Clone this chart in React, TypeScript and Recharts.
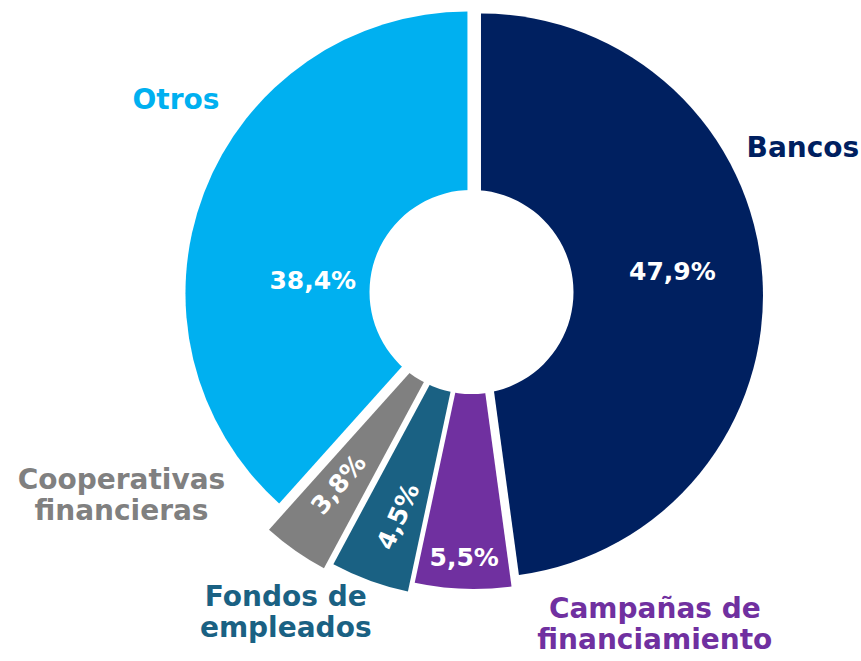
import React from 'react';
import { PieChart, Pie, Cell, Sector } from 'recharts';

// data
const categories = ['Bancos', 'Campañas de financiamiento', 'Fondos de empleados', 'Cooperativas financieras', 'Otros'];
const shares = [47.9, 5.5, 4.5, 3.8, 38.4];
const nameLines = [
  ['Bancos'],
  ['Campañas de', 'financiamiento'],
  ['Fondos de', 'empleados'],
  ['Cooperativas', 'financieras'],
  ['Otros'],
];

// styling
const colors = ['#002060', '#7030A0', '#1A6183', '#808080', '#00B0F0'];
const explode = [7, 11, 21, 29, 7];
const pctSpot = [
  { dAngle: 3.4, r: 200, rotate: 0 },
  { dAngle: 0, r: 261, rotate: 0 },
  { dAngle: 1, r: 233, rotate: -66 },
  { dAngle: -0.8, r: 232, rotate: -50 },
  { dAngle: 15.2, r: 162, rotate: 0 },
];
const nameSpot = [
  { dAngle: 19, r: 357 },
  { dAngle: 31.5, r: 369 },
  { dAngle: -11.1, r: 363 },
  { dAngle: -26.2, r: 402 },
  { dAngle: -11.2, r: 352 },
];

const data = categories.map((name, i) => ({ name, value: shares[i] }));
const hole = [{ name: 'hueco', value: 1 }];

const RAD = Math.PI / 180;
const FONT = '"DejaVu Sans", sans-serif';

const fmt = (v: number) => v.toFixed(1).replace('.', ',') + '%';

const renderSlice = (props: any) => {
  const i = props.index ?? categories.indexOf(props.payload?.name ?? props.name);
  const d = explode[i] || 0;
  const a = -props.midAngle * RAD;
  return <Sector {...props} cx={props.cx + d * Math.cos(a)} cy={props.cy + d * Math.sin(a)} />;
};

const renderLabel = (p: any) => {
  const i = p.index;
  const ps = pctSpot[i];
  const ns = nameSpot[i];
  const pa = (p.midAngle + ps.dAngle) * RAD;
  const px = p.cx + ps.r * Math.cos(pa);
  const py = p.cy - ps.r * Math.sin(pa);
  const na = (p.midAngle + ns.dAngle) * RAD;
  const nx = p.cx + ns.r * Math.cos(na);
  const ny = p.cy - ns.r * Math.sin(na);
  return (
    <g>
      <text
        x={px}
        y={py}
        dy="0.36em"
        transform={`rotate(${ps.rotate} ${px} ${py})`}
        textAnchor="middle"
        fill="#ffffff"
        fontSize={25}
        fontWeight="bold"
        fontFamily={FONT}
      >
        {fmt(p.value)}
      </text>
      <text x={nx} y={ny} textAnchor="middle" fill={colors[i]} fontSize={28} fontWeight="bold" fontFamily={FONT}>
        {nameLines[i].map((line, k) => (
          <tspan key={k} x={nx} dy={k === 0 ? 0 : 31}>
            {line}
          </tspan>
        ))}
      </text>
    </g>
  );
};

export default function App() {
  return (
    <div style={{ position: 'fixed', left: 0, top: 0, width: 861, height: 661, background: '#fff' }}>
      <PieChart width={861} height={661} margin={{ top: 0, right: 0, bottom: 0, left: 0 }}>
        <Pie
          data={data}
          dataKey="value"
          nameKey="name"
          cx={474}
          cy={296}
          outerRadius={282}
          innerRadius={0}
          startAngle={90}
          endAngle={-270}
          stroke="none"
          shape={renderSlice}
          label={renderLabel}
          labelLine={false}
          isAnimationActive={false}
        >
          {data.map((d, i) => (
            <Cell key={d.name} fill={colors[i]} />
          ))}
        </Pie>
        <Pie
          data={hole}
          dataKey="value"
          cx={471.5}
          cy={292}
          outerRadius={102}
          innerRadius={0}
          fill="#ffffff"
          stroke="none"
          legendType="none"
          isAnimationActive={false}
        />
      </PieChart>
    </div>
  );
}
